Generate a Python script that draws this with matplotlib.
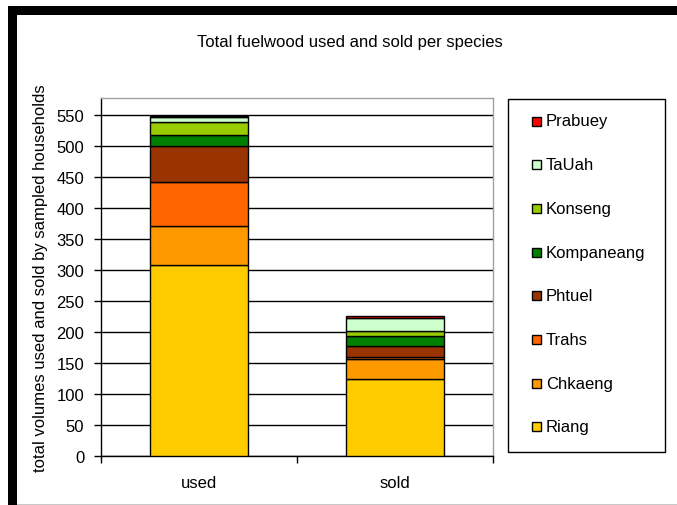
import numpy as np
import matplotlib.pyplot as plt
from matplotlib.patches import Rectangle

plt.rcParams['font.family'] = ['Liberation Sans', 'DejaVu Sans']

categories = ['used', 'sold']
species = ['Riang', 'Chkaeng', 'Trahs', 'Phtuel', 'Kompaneang', 'Konseng', 'TaUah', 'Prabuey']
colors = ['#FFCC00', '#FF9900', '#FF6600', '#993300', '#008000', '#99CC00', '#CCFFCC', '#FF0000']

riang = [308, 124]
chkaeng = [63, 32]
trahs = [70, 3]
phtuel = [59, 18]
kompaneang = [18, 16]
konseng = [21, 9]
tauah = [7, 21]
prabuey = [2, 2]
series = [riang, chkaeng, trahs, phtuel, kompaneang, konseng, tauah, prabuey]

FS = 12
W, H = 677, 506
fig = plt.figure(figsize=(W/100, H/100), dpi=100)
fig.patch.set_facecolor('white')

def px_rect(x0, y0, x1, y1, **kw):
    # rectangle given in pixel coords measured from the top-left corner
    r = Rectangle((x0/W, 1-y1/H), (x1-x0)/W, (y1-y0)/H, transform=fig.transFigure, **kw)
    fig.patches.append(r)
    return r

# black frame strips along top and left edge
px_rect(8, 7, W, 16, facecolor='black', edgecolor='none')
px_rect(8, 7, 17, H, facecolor='black', edgecolor='none')
px_rect(17, H-1.2, W, H, facecolor='#c8c8c8', edgecolor='none')

ax = fig.add_axes([101/W, 1-457/H, (493-101)/W, (457-99)/H])
x = np.arange(len(categories))
bottom = np.zeros(len(categories))
for vals, c in zip(series, colors):
    ax.bar(x, vals, width=0.5, bottom=bottom, color=c, edgecolor='black',
           linewidth=1.0, zorder=3)
    bottom += np.array(vals)

ax.set_xlim(-0.5, 1.5)
ax.set_ylim(0, 577)
ax.set_yticks(np.arange(0, 551, 50))
ax.yaxis.grid(True, color='black', linewidth=1.0, zorder=0)
ax.set_xticks(x)
ax.set_xticklabels(categories)
ax.set_xticks([-0.5, 0.5, 1.5], minor=True)
ax.tick_params(axis='x', which='major', length=0, pad=14, labelsize=FS)
ax.tick_params(axis='x', which='minor', length=5, direction='out', width=1)
ax.tick_params(axis='y', length=5, direction='out', width=1, pad=7, labelsize=FS)
for s in ['left', 'bottom']:
    ax.spines[s].set_color('black')
    ax.spines[s].set_linewidth(1.0)
for s in ['top', 'right']:
    ax.spines[s].set_color('#a0a0a0')
    ax.spines[s].set_linewidth(1.0)

ax.set_ylabel('total volumes used and sold by sampled households', fontsize=FS, labelpad=6)
fig.text(350/W, 1-42/H, 'Total fuelwood used and sold per species',
         ha='center', va='center', fontsize=FS)

# legend box, species listed top-down from last stacked to first
px_rect(508, 99.5, 664.5, 452.5, facecolor='white', edgecolor='black', linewidth=1.0)
row_y = 122
for s, c in list(zip(species, colors))[::-1]:
    px_rect(532, row_y-4.5, 541, row_y+4.5, facecolor=c, edgecolor='black', linewidth=1.0)
    fig.text(546/W, 1-row_y/H, s, ha='left', va='center', fontsize=FS)
    row_y += 43.7

fig.savefig('out.png', dpi=100)
